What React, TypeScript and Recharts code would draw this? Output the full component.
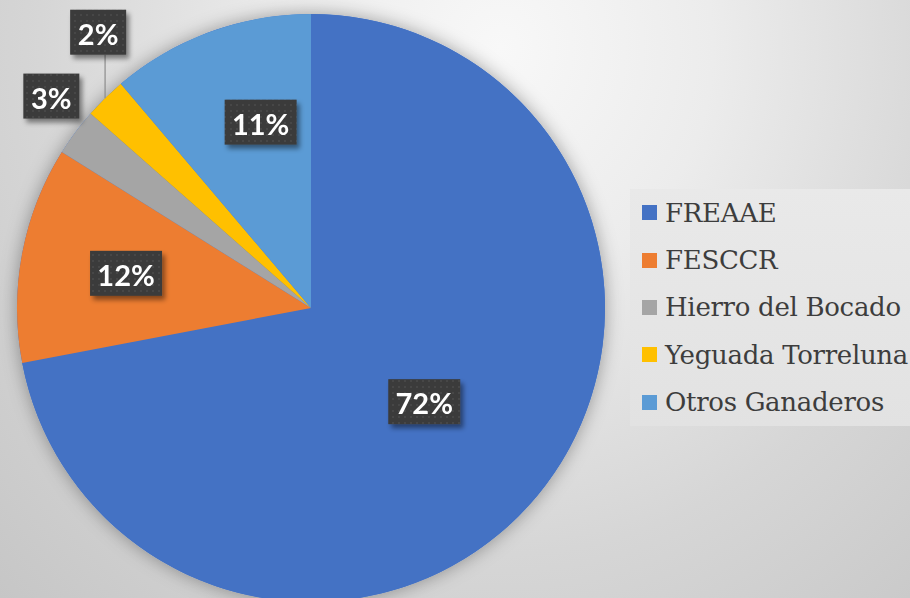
import React from 'react';
import { PieChart, Pie, Cell, Legend } from 'recharts';

// Share per breeder
const names = ['FREAAE', 'FESCCR', 'Hierro del Bocado', 'Yeguada Torreluna', 'Otros Ganaderos'];
const shares = [72.0, 11.9, 2.6, 2.3, 11.2];
const colors = ['#4472C4', '#ED7D31', '#A5A5A5', '#FFC000', '#5B9BD5'];

const data = names.map((name, i) => ({ name, value: shares[i] }));
const backing = [{ name: 'bg', value: 1 }];

// label placement: radius as fraction of outer radius, angle nudge in degrees
const labelLayout = [
  { r: 0.5, da: 0, leader: false },
  { r: 0.64, da: 0, leader: false },
  { r: 1.14, da: -2.5, leader: false },
  { r: 1.185, da: -6.8, leader: true },
  { r: 0.655, da: -5, leader: false },
];

const RADIAN = Math.PI / 180;

const renderLabel = (props: any) => {
  const { cx, cy, midAngle, outerRadius, percent, index } = props;
  const lay = labelLayout[index];
  const ang = (midAngle + lay.da) * RADIAN;
  const r = outerRadius * lay.r;
  const x = cx + r * Math.cos(ang);
  const y = cy - r * Math.sin(ang);
  const text = `${Math.round(percent * 100)}%`;
  const w = text.length * 16 + 24;
  const h = 45;
  let leader = null;
  if (lay.leader) {
    const ex = cx + outerRadius * Math.cos(midAngle * RADIAN);
    const ey = cy - outerRadius * Math.sin(midAngle * RADIAN);
    leader = <line x1={ex} y1={ey} x2={ex} y2={y + h / 2} stroke="#8c8c8c" strokeWidth={1.2} />;
  }
  return (
    <g key={`lbl-${index}`}>
      {leader}
      <rect x={x - w / 2} y={y - h / 2} width={w} height={h} fill="url(#dots)" filter="url(#boxShadow)" />
      <text
        x={x}
        y={y + 1}
        textAnchor="middle"
        dominantBaseline="central"
        fill="#ffffff"
        style={{ fontFamily: 'Lato, sans-serif', fontSize: 29, fontWeight: 700 }}
      >
        {text}
      </text>
    </g>
  );
};

const LegendBox = (props: any) => {
  const items = (props.payload || [])
    .filter((p: any) => names.includes(p.value))
    .sort((a: any, b: any) => names.indexOf(a.value) - names.indexOf(b.value));
  return (
    <div
      style={{
        width: 280,
        height: 237,
        background: 'linear-gradient(180deg, #e9e9e9, #e2e2e2)',
        boxSizing: 'border-box',
      }}
    >
      {items.map((p: any, i: number) => (
        <div
          key={i}
          style={{ height: 47.4, display: 'flex', alignItems: 'center', paddingLeft: 12 }}
        >
          <span style={{ width: 15, height: 15, background: p.color, display: 'inline-block', marginRight: 8, flexShrink: 0 }} />
          <span
            style={{
              fontFamily: '"DejaVu Serif", serif',
              fontSize: 26,
              color: '#3d3d3d',
              whiteSpace: 'nowrap',
              letterSpacing: -0.3,
            }}
          >
            {p.value}
          </span>
        </div>
      ))}
    </div>
  );
};

export default function App() {
  return (
    <div
      style={{
        position: 'fixed',
        left: 0,
        top: 0,
        width: 910,
        height: 598,
        overflow: 'hidden',
        background:
          'radial-gradient(ellipse at 55% 8%, #f8f8f8 0%, #ececec 30%, #d6d6d6 65%, #c6c6c6 100%)',
      }}
    >
      <PieChart width={910} height={598} margin={{ top: 0, right: 0, bottom: 0, left: 0 }}>
        <defs>
          <pattern id="dots" width="6" height="6" patternUnits="userSpaceOnUse">
            <rect width="6" height="6" fill="#3a3a3a" />
            <circle cx="3" cy="3" r="1" fill="#4a4a4a" />
          </pattern>
          <filter id="boxShadow" x="-20%" y="-20%" width="150%" height="160%">
            <feDropShadow dx="3" dy="4" stdDeviation="2.5" floodColor="#000" floodOpacity="0.45" />
          </filter>
          <filter id="pieShadow" x="-20%" y="-20%" width="140%" height="140%">
            <feDropShadow dx="0" dy="0" stdDeviation="9" floodColor="#000" floodOpacity="0.35" />
          </filter>
        </defs>
        <Pie
          data={backing}
          dataKey="value"
          cx={311}
          cy={308}
          outerRadius={294}
          startAngle={90}
          endAngle={-270}
          stroke="none"
          legendType="none"
          isAnimationActive={false}
        >
          <Cell fill="#4472C4" filter="url(#pieShadow)" />
        </Pie>
        <Pie
          data={data}
          dataKey="value"
          nameKey="name"
          cx={311}
          cy={308}
          outerRadius={294}
          startAngle={90}
          endAngle={-270}
          stroke="none"
          label={renderLabel}
          labelLine={false}
          isAnimationActive={false}
        >
          {data.map((d, i) => (
            <Cell key={d.name} fill={colors[i]} />
          ))}
        </Pie>
        <Legend
          layout="vertical"
          content={<LegendBox />}
          wrapperStyle={{ left: 630, top: 189, width: 280, height: 237 }}
        />
      </PieChart>
    </div>
  );
}
